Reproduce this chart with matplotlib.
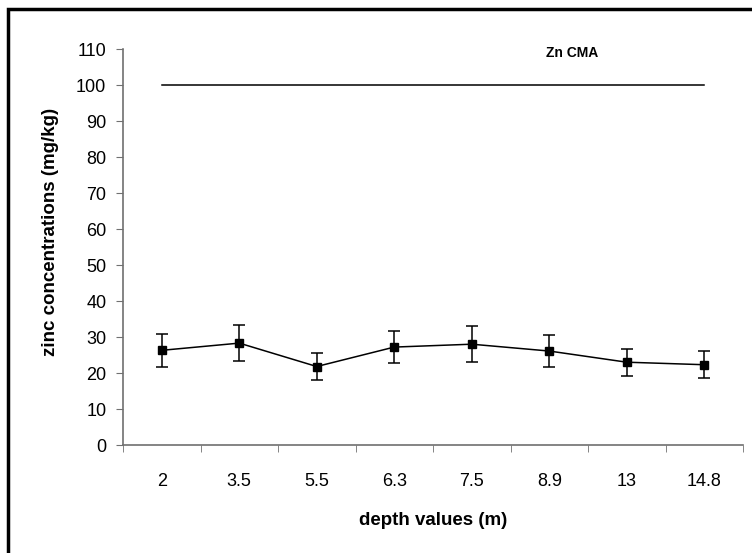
import matplotlib
matplotlib.use("Agg")
import matplotlib.pyplot as plt
from matplotlib.patches import Rectangle
import numpy as np

depths = ["2", "3.5", "5.5", "6.3", "7.5", "8.9", "13", "14.8"]
zinc = [26.3, 28.3, 21.8, 27.2, 28.0, 26.1, 23.0, 22.3]
zinc_err = [4.5, 5.0, 3.7, 4.5, 5.0, 4.5, 3.8, 3.8]
cma = [100] * 8
yticks = list(range(0, 111, 10))

plt.rcParams['font.family'] = ['Liberation Sans', 'DejaVu Sans']

fig = plt.figure(figsize=(7.52, 5.53), dpi=100)
ax = fig.add_axes([123/752, 1-445/553, (743-123)/752, (445-49)/553])

x = np.arange(len(depths))
ax.plot(x, cma, color='black', lw=1.1)
ax.errorbar(x, zinc, yerr=zinc_err, color='black', lw=1.1, marker='s',
            markersize=6, capsize=4, elinewidth=1.1, capthick=1.1)

ax.text(572/752, 1-53/553, "Zn CMA", transform=fig.transFigure, ha='center',
        va='center', fontsize=10, fontweight='bold')

ax.set_xlim(-0.5, len(depths)-0.5)
ax.set_ylim(0, 110)
ax.set_yticks(yticks)
ax.set_yticklabels([str(v) for v in yticks])
ax.set_xticks(x)
ax.set_xticklabels(depths)
ax.set_xticks(np.arange(-0.5, len(depths), 1.0), minor=True)
ax.tick_params(axis='x', which='major', length=0, pad=20, labelsize=13)
ax.tick_params(axis='x', which='minor', length=5, color='#707070', direction='out')
ax.tick_params(axis='y', length=5, color='#707070', labelsize=13, pad=7)

for s in ['top', 'right']:
    ax.spines[s].set_visible(False)
for s in ['left', 'bottom']:
    ax.spines[s].set_color('#707070')
    ax.spines[s].set_linewidth(1.2)

ax.set_xlabel("depth values (m)", fontsize=13.5, fontweight='bold', labelpad=16)
ax.set_ylabel("zinc concentrations (mg/kg)", fontsize=13.5, fontweight='bold', labelpad=16)
ax.yaxis.set_label_coords(-0.104, (445-232)/396)

fig.patches.append(Rectangle((8/752, -0.1), 1.2, 1.1 - 9/553, transform=fig.transFigure,
                             fill=False, edgecolor='black', lw=2.5))

fig.savefig("out.png", dpi=100)
